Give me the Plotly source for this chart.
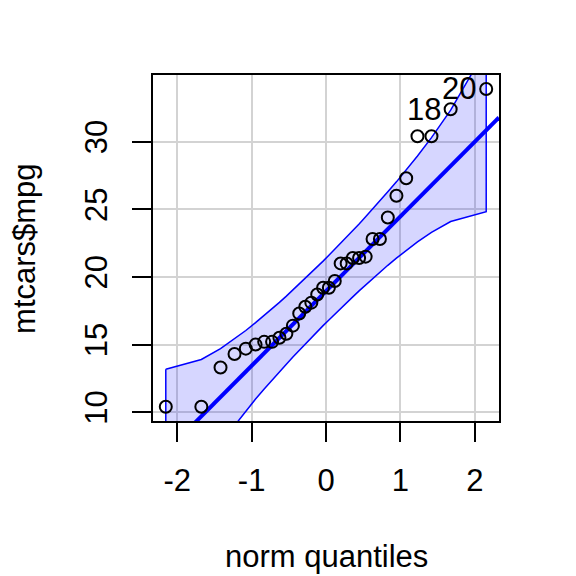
import plotly.graph_objects as go

# theoretical normal quantiles (ppoints, n=32)
norm_q = [-2.154, -1.676, -1.418, -1.230, -1.078, -0.947, -0.831, -0.725,
          -0.626, -0.533, -0.445, -0.360, -0.278, -0.197, -0.118, -0.039,
          0.039, 0.118, 0.197, 0.278, 0.360, 0.445, 0.533, 0.626,
          0.725, 0.831, 0.947, 1.078, 1.230, 1.418, 1.676, 2.154]
# sorted mtcars$mpg
mpg_sorted = [10.4, 10.4, 13.3, 14.3, 14.7, 15.0, 15.2, 15.2, 15.5, 15.8,
              16.4, 17.3, 17.8, 18.1, 18.7, 19.2, 19.2, 19.7, 21.0, 21.0,
              21.4, 21.4, 21.5, 22.8, 22.8, 24.4, 26.0, 27.3, 30.4, 30.4,
              32.4, 33.9]
# 95% pointwise confidence envelope
env_upper = [13.18, 13.90, 14.70, 15.41, 16.04, 16.62, 17.14, 17.64,
             18.12, 18.58, 19.03, 19.47, 19.89, 20.32, 20.75, 21.17,
             21.60, 22.04, 22.49, 22.95, 23.43, 23.92, 24.45, 25.01,
             25.62, 26.29, 27.03, 27.90, 28.94, 30.30, 32.33, 36.88]
env_lower = [1.12, 5.67, 7.70, 9.06, 10.10, 10.97, 11.71, 12.38,
             12.99, 13.55, 14.08, 14.57, 15.05, 15.51, 15.96, 16.40,
             16.82, 17.25, 17.68, 18.11, 18.53, 18.97, 19.42, 19.88,
             20.36, 20.86, 21.39, 21.96, 22.59, 23.30, 24.10, 24.82]
# reference line
line_intercept = 18.95
line_slope = 5.52
# labelled points (row ids)
label_idx = [30, 31]
label_text = ["18", "20"]

x_ticks = [-2, -1, 0, 1, 2]
x_tick_labels = ["-2", "-1", "0", "1", "2"]
y_ticks = [10, 15, 20, 25, 30]
y_tick_labels = ["10", "15", "20", "25", "30"]

x_range = [-2.326, 2.326]
y_range = [9.35, 34.93]

FONT = "Liberation Sans, Arial, sans-serif"
FS = 31
BLUE = "#0000FF"

fig = go.Figure()

# envelope polygon
fig.add_trace(go.Scatter(
    x=norm_q + norm_q[::-1] + [norm_q[0]],
    y=env_upper + env_lower[::-1] + [env_upper[0]],
    mode="lines", fill="toself", fillcolor="rgba(0,0,255,0.16)",
    line=dict(color=BLUE, width=1.5), hoverinfo="skip", showlegend=False))

# reference line across plot
fig.add_trace(go.Scatter(
    x=x_range,
    y=[line_intercept + line_slope * v for v in x_range],
    mode="lines", line=dict(color=BLUE, width=4), showlegend=False))

# points
fig.add_trace(go.Scatter(
    x=norm_q, y=mpg_sorted, mode="markers",
    marker=dict(symbol="circle-open", size=12, color="black",
                line=dict(width=2, color="black")),
    showlegend=False, cliponaxis=False))

for i, t in zip(label_idx, label_text):
    fig.add_annotation(x=norm_q[i], y=mpg_sorted[i], xref="x", yref="y",
                       text=t, showarrow=False, xanchor="right",
                       yanchor="middle", xshift=-8,
                       font=dict(family=FONT, size=FS, color="black"))

# axis titles
fig.add_annotation(x=0.5, y=-0.393, xref="paper", yref="paper",
                   text="norm quantiles", showarrow=False,
                   xanchor="center", yanchor="middle",
                   font=dict(family=FONT, size=FS, color="black"))
fig.add_annotation(x=-0.373, y=0.5, xref="paper", yref="paper",
                   text="mtcars$mpg", showarrow=False, textangle=-90,
                   xanchor="center", yanchor="middle",
                   font=dict(family=FONT, size=FS, color="black"))

# page body has an 8px margin, so the figure is 8px smaller and shifted
fig.update_layout(
    template="none",
    width=568, height=568,
    margin=dict(l=145, r=77, t=67, b=155, autoexpand=False),
    paper_bgcolor="white", plot_bgcolor="white",
    font=dict(family=FONT, size=FS, color="black"),
    showlegend=False,
)
fig.update_xaxes(range=x_range, tickvals=x_ticks, ticktext=x_tick_labels,
                 ticks="outside", ticklen=19, tickwidth=2, tickcolor="black",
                 showgrid=True, gridcolor="#d3d3d3", gridwidth=2,
                 showline=True, linecolor="black", linewidth=2, mirror=True,
                 zeroline=False, ticklabelstandoff=12, automargin=False,
                 tickfont=dict(family=FONT, size=FS, color="black"))
fig.update_yaxes(range=y_range, tickvals=y_ticks, ticktext=y_tick_labels,
                 ticks="outside", ticklen=19, tickwidth=2, tickcolor="black",
                 showgrid=True, gridcolor="#d3d3d3", gridwidth=2,
                 showline=True, linecolor="black", linewidth=2, mirror=True,
                 zeroline=False, tickangle=-90, ticklabelstandoff=13,
                 automargin=False,
                 tickfont=dict(family=FONT, size=FS, color="black"))

fig.write_html("out.html")
